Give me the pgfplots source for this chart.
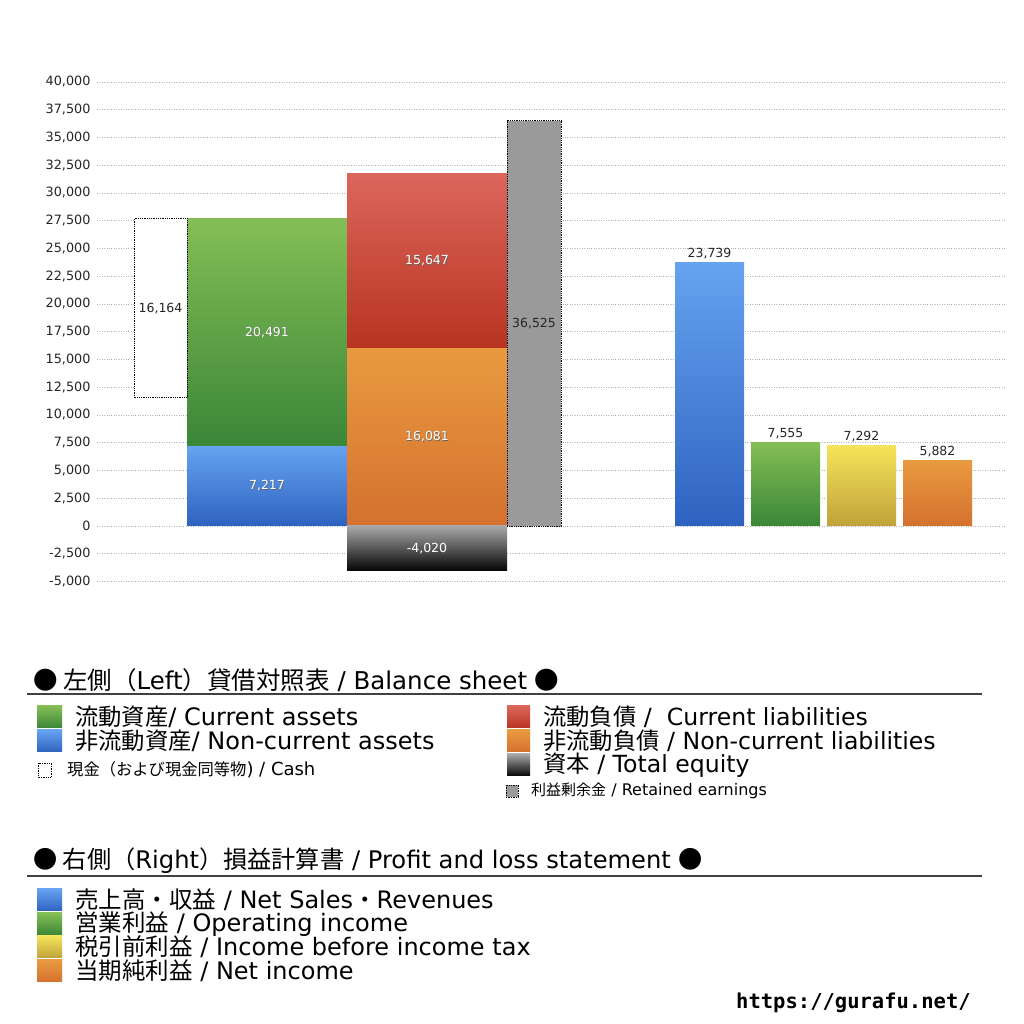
\documentclass[border=0pt]{standalone}
\usepackage{fontspec}
\usepackage{pgfplots}
\pgfplotsset{compat=1.18}
\setmainfont{DejaVu Sans}
\newfontfamily\jp{Noto Sans CJK JP}
\newfontfamily\dvm{DejaVu Sans Mono}
\newcommand\J[2][23.3]{{\jp\fontsize{#1}{#1}\selectfont #2}}
\definecolor{grT}{HTML}{84BE55}
\definecolor{grB}{HTML}{3B8638}
\definecolor{blT}{HTML}{66A3F0}
\definecolor{blB}{HTML}{2E62C0}
\definecolor{rdT}{HTML}{DC665C}
\definecolor{rdB}{HTML}{B83421}
\definecolor{orT}{HTML}{E99A40}
\definecolor{orB}{HTML}{D4712E}
\definecolor{bkT}{HTML}{A8A8A8}
\definecolor{bkB}{HTML}{050505}
\definecolor{ylT}{HTML}{F6E45A}
\definecolor{ylB}{HTML}{BFA23A}
\definecolor{gy}{HTML}{9A9A9A}
\begin{document}
\begin{tikzpicture}[x=1pt,y=1pt]
\fill[white] (0,0) rectangle (1024,1024);
\begin{axis}[
  at={(97pt,442.5pt)}, anchor=south west,
  scale only axis, width=908pt, height=499.5pt,
  xmin=97, xmax=1005, ymin=-5000, ymax=40000,
  clip=false,
  hide x axis,
  y axis line style={draw=none},
  major tick length=0pt,
  ytick={-5000,-2500,...,40000},
  ymajorgrids,
  grid style={black!30, dotted, line width=0.7pt},
  yticklabel style={font=\fontsize{12.8}{14}\selectfont, text=black!85, xshift=-3pt},
  scaled y ticks=false,
  /pgf/number format/assume math mode=true,
  /pgf/number format/1000 sep={,},
]
% non-current assets
\addplot[ybar, bar width=160, bar shift=0pt, draw=none, top color=blT, bottom color=blB] coordinates {(267,7217)};
% current assets
\addplot[draw=none, top color=grT, bottom color=grB] coordinates {(187,7217) (187,27708) (347,27708) (347,7217)} -- cycle;
% cash
\addplot[draw=black, densely dotted, line width=0.8pt, fill=white] coordinates {(134,11544) (134,27708) (187,27708) (187,11544)} -- cycle;
% non-current liabilities
\addplot[ybar, bar width=160, bar shift=0pt, draw=none, top color=orT, bottom color=orB] coordinates {(427,16081)};
% current liabilities
\addplot[draw=none, top color=rdT, bottom color=rdB] coordinates {(347,16081) (347,31728) (507,31728) (507,16081)} -- cycle;
% total equity
\addplot[ybar, bar width=160, bar shift=0pt, draw=none, top color=bkT, bottom color=bkB] coordinates {(427,-4020)};
% retained earnings
\addplot[ybar, bar width=54, bar shift=0pt, fill=gy, draw=black, densely dotted, line width=0.8pt] coordinates {(534,36525)};
% P&L
\addplot[ybar, bar width=69, bar shift=0pt, draw=none, top color=blT, bottom color=blB,
  nodes near coords, nodes near coords style={font=\fontsize{12.5}{14}\selectfont, text=black!85}] coordinates {(709.5,23739)};
\addplot[ybar, bar width=69, bar shift=0pt, draw=none, top color=grT, bottom color=grB,
  nodes near coords, nodes near coords style={font=\fontsize{12.5}{14}\selectfont, text=black!85}] coordinates {(785.5,7555)};
\addplot[ybar, bar width=69, bar shift=0pt, draw=none, top color=ylT, bottom color=ylB,
  nodes near coords, nodes near coords style={font=\fontsize{12.5}{14}\selectfont, text=black!85}] coordinates {(861.5,7292)};
\addplot[ybar, bar width=69, bar shift=0pt, draw=none, top color=orT, bottom color=orB,
  nodes near coords, nodes near coords style={font=\fontsize{12.5}{14}\selectfont, text=black!85}] coordinates {(937.5,5882)};
% value labels (shadow then white)
\addplot[draw=none, mark=none, point meta=explicit, nodes near coords, nodes near coords align=center,
  nodes near coords style={font=\fontsize{12.5}{14}\selectfont, text=black!60, xshift=0.6pt, yshift=-0.6pt}]
  coordinates {(267,17462) [20491] (267,3608) [7217] (427,23904) [15647] (427,8040) [16081] (427,-2010) [-4020]};
\addplot[draw=none, mark=none, point meta=explicit, nodes near coords, nodes near coords align=center,
  nodes near coords style={font=\fontsize{12.5}{14}\selectfont, text=white}]
  coordinates {(267,17462) [20491] (267,3608) [7217] (427,23904) [15647] (427,8040) [16081] (427,-2010) [-4020]};
\addplot[draw=none, mark=none, point meta=explicit, nodes near coords, nodes near coords align=center,
  nodes near coords style={font=\fontsize{12.5}{14}\selectfont, text=black!85}]
  coordinates {(160.5,19626) [16164] (534,18262) [36525]};
\end{axis}
% legend: balance sheet
\node[anchor=west, inner sep=0] at (33,344) {\fontsize{24.5}{24.5}\selectfont{\jp ● 左側（}Left{\jp ）貸借対照表} / Balance sheet {\jp ●}};
\draw[black!75, line width=1.2pt] (27,330) -- (982,330);
\shade[top color=grT, bottom color=grB] (37,318) rectangle (62,296);
\node[anchor=west, inner sep=0] at (75,307) {\fontsize{24}{24}\selectfont\J{流動資産}/ Current assets};
\shade[top color=blT, bottom color=blB] (37,294) rectangle (62,272);
\node[anchor=west, inner sep=0] at (75,283) {\fontsize{24}{24}\selectfont\J{非流動資産}/ Non-current assets};
\draw[densely dotted, line width=0.7pt, fill=white] (38,261) rectangle (51,247);
\node[anchor=west, inner sep=0] at (67,254) {\fontsize{18}{18}\selectfont\J[16.3]{現金（および現金同等物}) / Cash};
\shade[top color=rdT, bottom color=rdB] (507,318) rectangle (530,296);
\node[anchor=west, inner sep=0] at (543,307) {\fontsize{23.6}{23.6}\selectfont\J{流動負債} /\ \ Current liabilities};
\shade[top color=orT, bottom color=orB] (507,294) rectangle (530,272);
\node[anchor=west, inner sep=0] at (543,283) {\fontsize{23.6}{23.6}\selectfont\J{非流動負債} / Non-current liabilities};
\shade[top color=bkT, bottom color=bkB] (507,270) rectangle (530,248);
\node[anchor=west, inner sep=0] at (543,259) {\fontsize{23.6}{23.6}\selectfont\J{資本} / Total equity};
\draw[densely dotted, line width=0.7pt, fill=gy] (506,239) rectangle (518,227);
\node[anchor=west, inner sep=0] at (531,233) {\fontsize{16}{16}\selectfont\J[15]{利益剰余金} / Retained earnings};
% legend: P&L
\node[anchor=west, inner sep=0] at (33,163) {\fontsize{24.2}{24.2}\selectfont{\jp ● 右側（}Right{\jp ）損益計算書} / Profit and loss statement {\jp ●}};
\draw[black!75, line width=1.2pt] (27,148) -- (982,148);
\shade[top color=blT, bottom color=blB] (37,135) rectangle (62,113);
\node[anchor=west, inner sep=0] at (75,124) {\fontsize{24}{24}\selectfont\J[23.5]{売上高・収益} / Net Sales\J[23.5]{・}Revenues};
\shade[top color=grT, bottom color=grB] (37,111) rectangle (62,89);
\node[anchor=west, inner sep=0] at (75,100) {\fontsize{24}{24}\selectfont\J[23.5]{営業利益} / Operating income};
\shade[top color=ylT, bottom color=ylB] (37,88) rectangle (62,66);
\node[anchor=west, inner sep=0] at (75,77) {\fontsize{24}{24}\selectfont\J[23.5]{税引前利益} / Income before income tax};
\shade[top color=orT, bottom color=orB] (37,64) rectangle (62,42);
\node[anchor=west, inner sep=0] at (75,53) {\fontsize{24}{24}\selectfont\J[23.5]{当期純利益} / Net income};
\node[anchor=west, inner sep=0] at (736,21) {\dvm\bfseries\fontsize{20.5}{20.5}\selectfont https://gurafu.net/};
\end{tikzpicture}
\end{document}
